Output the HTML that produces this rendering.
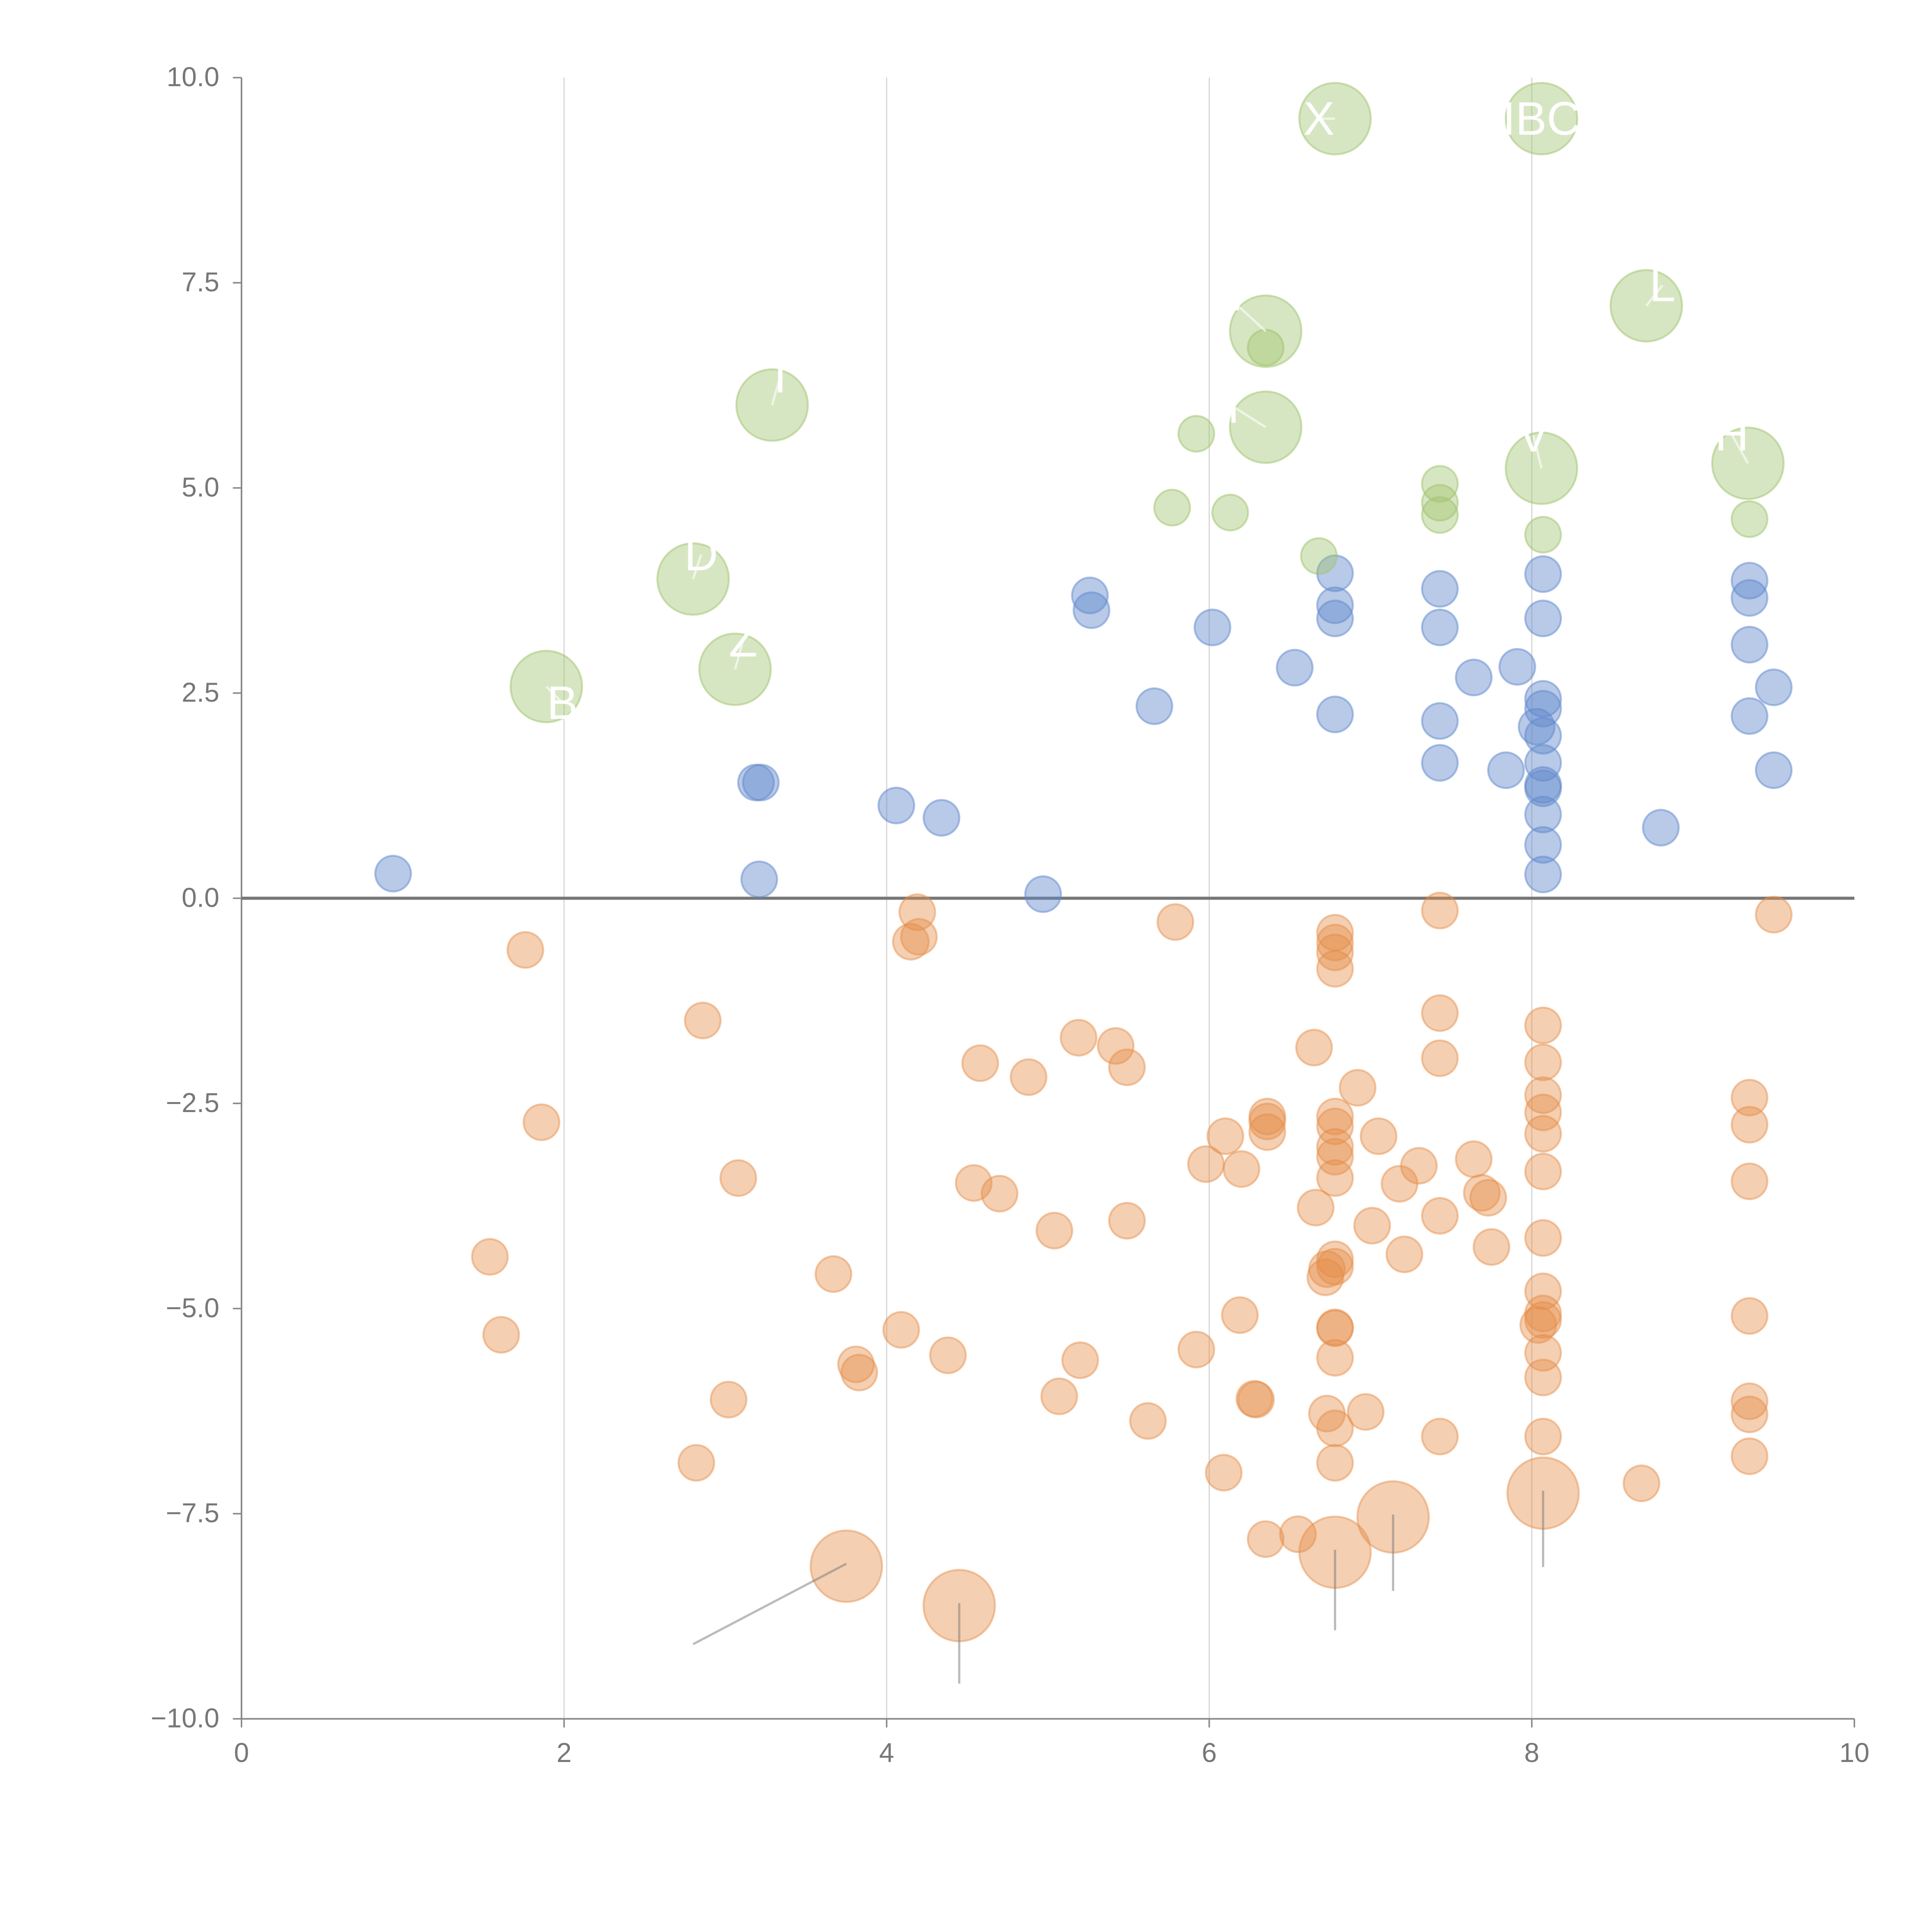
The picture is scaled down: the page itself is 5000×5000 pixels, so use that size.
<!DOCTYPE html>
<html><head><meta charset="utf-8"><style>
html,body{margin:0;padding:0;background:#fff;}
svg{display:block;font-family:"Liberation Sans",sans-serif;}
</style></head><body>
<svg id="chart" width="5000" height="5000" viewBox="0 0 1568 1568" xmlns="http://www.w3.org/2000/svg">
<g id="grid"></g>
<g id="axes"></g>
<g id="marks"></g>
<g id="labels"></g>
</svg>
<script>
const xTicks=[0,2,4,6,8,10];
const yTicks=[-10,-7.5,-5,-2.5,0,2.5,5,7.5,10];
const yTickLabels=["\u221210.0","\u22127.5","\u22125.0","\u22122.5","0.0","2.5","5.0","7.5","10.0"];
const blueX=[0.94,3.19,3.22,3.21,4.06,4.34,4.97,5.26,5.27,5.66,6.02,6.53,6.78,6.78,6.78,6.78,7.43,7.43,7.43,7.43,7.64,7.84,7.91,8.07,8.07,8.07,8.07,8.03,8.07,8.07,8.07,8.07,8.07,8.07,8.07,8.80,9.35,9.35,9.35,9.35,9.50,9.50];
const blueY=[0.30,1.41,1.41,0.23,1.13,0.98,0.05,3.69,3.51,2.34,3.30,2.81,3.96,3.57,3.41,2.24,3.77,3.30,2.16,1.65,2.69,1.56,2.82,3.95,3.41,2.43,2.31,2.09,1.98,1.65,1.38,1.34,1.02,0.65,0.29,0.86,3.87,3.66,3.09,2.22,2.57,1.56];
const greenX=[5.77,5.92,6.13,6.35,6.68,7.43,7.43,7.43,8.07,9.35];
const greenY=[4.76,5.66,4.70,6.71,4.17,5.05,4.82,4.67,4.43,4.62];
const greenBigX=[1.89,2.80,3.06,3.29,6.35,6.35,6.78,8.06,8.71,8.06,9.34];
const greenBigY=[2.58,3.89,2.79,6.01,6.91,5.74,9.50,9.50,7.22,5.24,5.30];
const greenBigLabels=["B","D","Z","I","E","T","X","IBC","L","V","H"];
const greenLabelDX=[0.1,0.05,0.05,0.05,-0.25,-0.2,-0.1,0,0.1,-0.05,-0.1];
const greenLabelDY=[-0.2,0.3,0.35,0.35,0.45,0.25,0,0,0.25,0.4,0.35];
const orangeX=[1.76,1.86,1.54,1.61,2.86,3.08,2.82,3.02,3.67,3.81,3.83,4.09,4.19,4.15,4.20,4.38,4.58,4.54,4.70,4.88,5.04,5.07,5.19,5.20,5.42,5.49,5.49,5.62,5.79,5.92,5.98,6.10,6.09,6.19,6.20,6.28,6.29,6.36,6.36,6.36,6.35,6.55,6.65,6.66,6.72,6.73,6.78,6.78,6.73,6.78,6.78,6.78,6.78,6.78,6.78,6.78,6.78,6.78,6.78,6.78,6.78,6.78,6.78,6.92,6.97,7.01,7.05,7.18,7.21,7.30,7.43,7.43,7.43,7.43,7.43,7.64,7.69,7.73,7.75,8.07,8.07,8.07,8.07,8.07,8.07,8.07,8.07,8.07,8.07,8.04,8.07,8.07,8.07,8.68,9.35,9.35,9.35,9.35,9.35,9.35,9.35,9.50];
const orangeY=[-0.63,-2.73,-4.37,-5.32,-1.49,-3.41,-6.88,-6.11,-4.58,-5.68,-5.78,-5.26,-0.17,-0.53,-0.47,-5.57,-2.01,-3.47,-3.60,-2.18,-4.05,-6.07,-1.70,-5.63,-1.80,-2.06,-3.93,-6.37,-0.29,-5.50,-3.24,-2.90,-7.00,-5.08,-3.30,-6.10,-6.11,-2.66,-2.72,-2.85,-7.81,-7.75,-1.82,-3.77,-4.62,-4.52,-4.40,-4.49,-6.28,-6.46,-6.88,-0.42,-0.54,-0.66,-0.86,-2.66,-2.78,-3.03,-3.15,-3.41,-5.23,-5.24,-5.60,-2.31,-6.26,-3.99,-2.90,-3.48,-4.34,-3.26,-0.15,-1.40,-1.95,-3.87,-6.56,-3.18,-3.59,-3.65,-4.25,-1.55,-2.00,-2.40,-2.61,-2.87,-3.33,-4.14,-4.79,-5.06,-5.14,-5.20,-5.54,-5.84,-6.56,-7.13,-2.43,-2.76,-3.45,-5.09,-6.13,-6.29,-6.80,-0.20];
const orangeBigX=[3.75,4.45,6.78,7.14,8.07];
const orangeBigY=[-8.14,-8.62,-7.97,-7.54,-7.25];
const orangeLabelDX=[-0.95,0,0,0,0];
const orangeLabelDY=[-0.95,-0.95,-0.95,-0.9,-0.9];

const X0=196,X1=1505,Y0=1395,Y1=63;
const sx=v=>X0+(v-0)/(10-0)*(X1-X0);
const sy=v=>Y0-(v+10)/20*(Y0-Y1);
const NS="http://www.w3.org/2000/svg";
function mk(tag,attrs,parent){const e=document.createElementNS(NS,tag);for(const k in attrs)e.setAttribute(k,attrs[k]);parent.appendChild(e);return e;}
const grid=document.getElementById('grid'),axes=document.getElementById('axes'),marks=document.getElementById('marks'),labels=document.getElementById('labels');

xTicks.forEach(t=>{
  if(t>0&&t<10){const g=mk('line',{x1:sx(t),x2:sx(t),y1:Y1,y2:Y0,stroke:'#d8d8d8','stroke-width':1},grid);
  
  }
  const tk=mk('line',{x1:sx(t),x2:sx(t),y1:Y0,y2:Y0+7,stroke:'#888','stroke-width':1.2},axes);
  
  
  const lb=mk('text',{x:sx(t),y:Y0+35,'text-anchor':'middle','font-size':22,fill:'#777'},axes);
  lb.textContent=String(t);
  
  
});
yTicks.forEach((t,i)=>{
  const tk=mk('line',{x1:X0-7,x2:X0,y1:sy(t),y2:sy(t),stroke:'#888','stroke-width':1.2},axes);
  
  
  const lb=mk('text',{x:X0-18,y:sy(t)+7,'text-anchor':'end','font-size':22,fill:'#777'},axes);
  lb.textContent=yTickLabels[i];
  
  
});
let a=mk('line',{x1:X0,x2:X0,y1:Y1,y2:Y0,stroke:'#888','stroke-width':1.3},axes);


a=mk('line',{x1:X0,x2:X1,y1:Y0,y2:Y0,stroke:'#888','stroke-width':1.3},axes);


a=mk('line',{x1:X0,x2:X1,y1:sy(0),y2:sy(0),stroke:'#777','stroke-width':2.5},axes);



function dots(xs,ys,r,fill,stroke,name){
  xs.forEach((x,i)=>{
    const c=mk('circle',{cx:sx(x),cy:sy(ys[i]),r:r,fill:fill,stroke:stroke,'stroke-width':1.6},marks);
    
    
  });
}
dots(orangeX,orangeY,14.5,'rgba(228,140,72,0.42)','rgba(228,140,72,0.45)','orange-point');
dots(blueX,blueY,14.5,'rgba(98,138,205,0.45)','rgba(98,138,205,0.5)','blue-point');
dots(greenX,greenY,14.5,'rgba(160,196,110,0.42)','rgba(160,196,110,0.5)','green-point');
dots(greenBigX,greenBigY,29,'rgba(160,196,110,0.42)','rgba(160,196,110,0.5)','green-big-point');
dots(orangeBigX,orangeBigY,29,'rgba(228,140,72,0.42)','rgba(228,140,72,0.45)','orange-big-point');

orangeBigX.forEach((x,i)=>{
  const l=mk('line',{x1:sx(x),y1:sy(orangeBigY[i])-2,x2:sx(x+orangeLabelDX[i]),y2:sy(orangeBigY[i]+orangeLabelDY[i]),stroke:'rgba(120,120,120,0.5)','stroke-width':1.8},labels);
  
  
});
greenBigX.forEach((x,i)=>{
  const lx=sx(x+greenLabelDX[i]),ly=sy(greenBigY[i]+greenLabelDY[i]);
  const l=mk('line',{x1:sx(x),y1:sy(greenBigY[i]),x2:lx,y2:ly,stroke:'rgba(255,255,255,0.6)','stroke-width':1.8},labels);
  
  
  const t=mk('text',{x:lx,y:ly+13,'text-anchor':'middle','font-size':38,fill:'#fff'},labels);
  t.textContent=greenBigLabels[i];
  
  
});
</script>
</body></html>
